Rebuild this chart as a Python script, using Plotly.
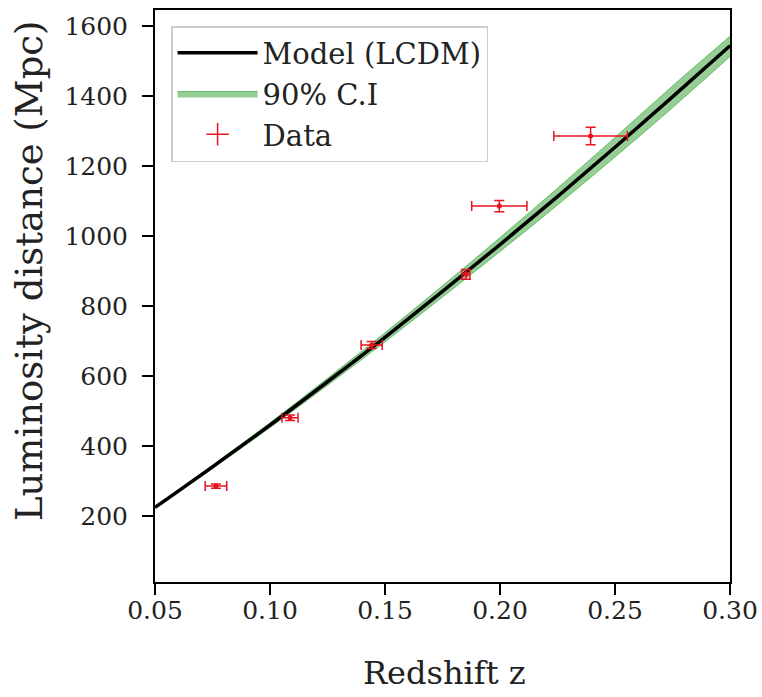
import plotly.graph_objects as go

# Model curve
model_z = [0.05, 0.075, 0.10, 0.125, 0.15, 0.175, 0.20, 0.225, 0.25, 0.275, 0.30]
model_dl = [224, 340, 459, 583, 710, 841, 975, 1112, 1253, 1397, 1543]
ci_lower = [221, 335, 452, 573, 697, 825, 955, 1088, 1225, 1366, 1512]
ci_upper = [227, 345, 466, 593, 723, 857, 995, 1136, 1281, 1428, 1570]

# Data points
data_z = [0.0765, 0.1087, 0.1442, 0.1852, 0.1997, 0.2394]
data_dl = [285, 480, 688, 890, 1085, 1285]
data_zerr = [0.0047, 0.0035, 0.0046, 0.0017, 0.012, 0.016]
data_dlerr = [6, 8, 10, 14, 16, 25]

x_ticks = [0.05, 0.10, 0.15, 0.20, 0.25, 0.30]
y_ticks = [200, 400, 600, 800, 1000, 1200, 1400, 1600]

FONT = "DejaVu Serif"
RED = "#e8131f"
TXT = "#222"

fig = go.Figure()

fig.add_trace(go.Scatter(x=model_z, y=ci_lower, mode="lines", line=dict(color="rgba(44,160,44,0.6)", width=1, shape="spline"),
                         showlegend=False, hoverinfo="skip"))
fig.add_trace(go.Scatter(x=model_z, y=ci_upper, mode="lines", fill="tonexty",
                         fillcolor="rgba(44,160,44,0.5)", line=dict(color="rgba(44,160,44,0.6)", width=1, shape="spline"),
                         name="90% C.I", legendrank=2))
fig.add_trace(go.Scatter(x=model_z, y=model_dl, mode="lines", line=dict(color="black", width=3.5, shape="spline"),
                         name="Model (LCDM)", legendrank=1))
fig.add_trace(go.Scatter(x=data_z, y=data_dl, mode="markers",
                         marker=dict(color=RED, size=5),
                         error_x=dict(type="data", array=data_zerr, color=RED, thickness=1.5, width=5),
                         error_y=dict(type="data", array=data_dlerr, color=RED, thickness=1.5, width=5),
                         showlegend=False))
fig.add_trace(go.Scatter(x=[None], y=[None], mode="markers", name="Data", legendrank=3,
                         marker=dict(symbol="cross-thin", size=20, color=RED, line=dict(color=RED, width=1.5))))

axis_common = dict(showline=True, linecolor="black", linewidth=2, mirror=True, ticks="outside",
                   ticklen=11, tickwidth=2, tickcolor="black", showgrid=False, zeroline=False,
                   automargin=False, tickfont=dict(family=FONT, size=25, color=TXT))

fig.update_layout(
    width=762, height=697,
    margin=dict(l=155, r=32, t=10, b=115),
    plot_bgcolor="white", paper_bgcolor="white",
    font=dict(family=FONT, color=TXT),
    xaxis=dict(range=[0.05, 0.30], tickvals=x_ticks, tickformat=".2f", ticklabelstandoff=-6,
               **axis_common),
    yaxis=dict(range=[11, 1645], tickvals=y_ticks, ticklabelstandoff=9,
               **axis_common),
    legend=dict(x=0.028, y=0.972, xanchor="left", yanchor="top",
                bgcolor="white", bordercolor="#cccccc", borderwidth=1.5,
                font=dict(family=FONT, size=29, color=TXT),
                traceorder="normal", itemwidth=80, tracegroupgap=0),
    annotations=[
        dict(text="Luminosity distance (Mpc)", textangle=-90, xref="paper", yref="paper",
             x=-0.217, y=0.544, xanchor="center", yanchor="middle", showarrow=False,
             font=dict(family=FONT, size=37, color=TXT)),
        dict(text="Redshift z", xref="paper", yref="paper",
             x=0.503, y=-0.196, xanchor="center", yanchor="bottom", showarrow=False,
             font=dict(family=FONT, size=32, color=TXT)),
    ],
)

fig.write_html("out.html")
